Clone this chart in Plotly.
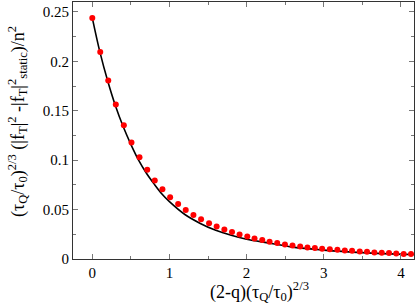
import plotly.graph_objects as go

# measured points (red dots)
pts_x = [0.0, 0.103, 0.207, 0.305, 0.409, 0.508, 0.612, 0.712, 0.81, 0.909,
         1.009, 1.113, 1.211, 1.311, 1.41, 1.514, 1.612, 1.712, 1.811, 1.909,
         2.009, 2.103, 2.203, 2.298, 2.397, 2.497, 2.595, 2.695, 2.789, 2.885,
         2.979, 3.079, 3.177, 3.273, 3.367, 3.467, 3.561, 3.656, 3.752, 3.846,
         3.94, 4.036, 4.131]
pts_y = [0.2437, 0.2094, 0.1805, 0.1562, 0.1352, 0.1178, 0.1030, 0.0904, 0.0793, 0.0705,
         0.0625, 0.0557, 0.0496, 0.0446, 0.0403, 0.0362, 0.0328, 0.0298, 0.0272, 0.0248,
         0.0227, 0.0207, 0.0191, 0.0174, 0.0161, 0.0147, 0.0137, 0.0127, 0.0117, 0.0111,
         0.0104, 0.0098, 0.0094, 0.0087, 0.0084, 0.0077, 0.0074, 0.0066, 0.0063, 0.0060,
         0.0056, 0.0050, 0.0050]

# black curve
curve_x = [0.0, 0.1, 0.2, 0.3, 0.4, 0.5, 0.6, 0.7, 0.8, 0.9, 1.0, 1.2, 1.4, 1.6,
           1.8, 2.0, 2.3, 2.6, 3.0, 3.5, 4.17]
curve_y = [0.244, 0.209, 0.180, 0.155, 0.134, 0.116, 0.100, 0.087, 0.076, 0.066,
           0.058, 0.045, 0.036, 0.029, 0.024, 0.020, 0.016, 0.012, 0.009, 0.0065, 0.0045]

x_title = "(2-q)(τ<sub>Q</sub>/τ<sub>0</sub>)<sup>2/3</sup>"
y_title = ("(τ<sub>Q</sub>/τ<sub>0</sub>)<sup>2/3</sup> (|f<sub>T</sub>|<sup>2</sup> "
           "-|f<sub>T</sub>|<sup>2</sup><sub>static</sub>)/n<sup>2</sup>")

serif = "'Liberation Serif', 'Times New Roman', 'DejaVu Serif', serif"

fig = go.Figure()
fig.add_trace(go.Scatter(x=curve_x, y=curve_y, mode="lines",
                         line=dict(color="black", width=1.6, shape="spline"),
                         showlegend=False))
fig.add_trace(go.Scatter(x=pts_x, y=pts_y, mode="markers",
                         marker=dict(color="#ff0000", size=6),
                         showlegend=False))

axis_common = dict(showline=True, linecolor="#333", linewidth=1, mirror="allticks",
                   ticks="inside", ticklen=5, tickcolor="#777", showgrid=False,
                   zeroline=False, tickfont=dict(family=serif, size=15, color="black"))

fig.update_xaxes(range=[-0.25, 4.17], dtick=1, tick0=0,
                 minor=dict(ticks="inside", ticklen=3, dtick=0.5, tickcolor="#777"),
                 **axis_common)
fig.update_yaxes(range=[0, 0.26], dtick=0.05, tick0=0,
                 minor=dict(ticks="inside", ticklen=3, dtick=0.025, tickcolor="#777"),
                 **axis_common)

# axis titles as annotations so they can be placed like the reference
fig.add_annotation(text=x_title, xref="paper", yref="paper", x=0.548, y=-0.128,
                   showarrow=False, xanchor="center", yanchor="middle",
                   font=dict(family=serif, size=18, color="black"))
fig.add_annotation(text=y_title, xref="paper", yref="paper", x=-0.164, y=0.533,
                   showarrow=False, xanchor="center", yanchor="middle", textangle=-90,
                   font=dict(family=serif, size=18, color="black"))

fig.update_layout(width=415, height=305, margin=dict(l=73, r=1, t=2, b=46),
                  font=dict(family=serif),
                  plot_bgcolor="white", paper_bgcolor="white")

# drop the browser's default body margin so the figure sits at the window corner
fig.write_html("out.html", config={"displayModeBar": False},
               post_script="document.body.style.margin='0';")
